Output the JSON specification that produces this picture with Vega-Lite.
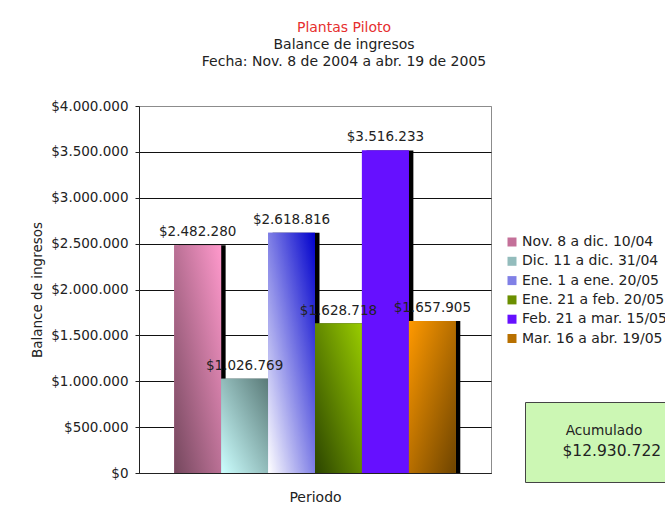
{
  "$schema": "https://vega.github.io/schema/vega-lite/v6.json",
  "width": 352,
  "height": 367,
  "autosize": {"type": "none"},
  "padding": {"left": 139, "top": 106, "right": 174, "bottom": 46},
  "background": "white",
  "title": {
    "text": "Plantas Piloto",
    "subtitle": ["Balance de ingresos", "Fecha: Nov. 8 de 2004 a abr. 19 de 2005"],
    "frame": "group",
    "anchor": "middle",
    "dx": 29,
    "offset": 30,
    "color": "#e62e2e",
    "font": "DejaVu Sans",
    "fontSize": 14,
    "fontWeight": "normal",
    "subtitleColor": "#222222",
    "subtitleFont": "DejaVu Sans",
    "subtitleFontSize": 14,
    "subtitleLineHeight": 17.5,
    "subtitlePadding": 3
  },
  "config": {
    "locale": {"number": {"decimal": ",", "thousands": ".", "grouping": [3], "currency": ["$", ""]}},
    "font": "DejaVu Sans",
    "view": {"fill": "#cccccc", "stroke": "#8c8c8c", "strokeWidth": 1}
  },
  "data": {
    "values": [
      {"periodo": "Nov. 8 a dic. 10/04", "valor": 2482280},
      {"periodo": "Dic. 11 a dic. 31/04", "valor": 1026769},
      {"periodo": "Ene. 1 a ene. 20/05", "valor": 2618816},
      {"periodo": "Ene. 21 a feb. 20/05", "valor": 1628718},
      {"periodo": "Feb. 21 a mar. 15/05", "valor": 3516233},
      {"periodo": "Mar. 16 a abr. 19/05", "valor": 1657905}
    ]
  },
  "layer": [
    {
      "encoding": {
        "x": {
          "field": "periodo",
          "type": "nominal",
          "sort": null,
          "scale": {"paddingInner": 0, "paddingOuter": 0.75},
          "axis": {
            "title": "Periodo",
            "labels": false,
            "ticks": false,
            "domainColor": "#222222",
            "titleFontSize": 14,
            "titleFontWeight": "normal",
            "titleColor": "#222222",
            "titlePadding": 17
          }
        },
        "y": {
          "field": "valor",
          "type": "quantitative",
          "scale": {"domain": [0, 4000000], "nice": false},
          "axis": {
            "values": [0, 500000, 1000000, 1500000, 2000000, 2500000, 3000000, 3500000, 4000000],
            "format": "$,.0f",
            "title": "Balance de ingresos",
            "titleFontSize": 13.5,
            "titleFontWeight": "normal",
            "titleColor": "#222222",
            "titlePadding": 6,
            "labelFontSize": 13.5,
            "labelColor": "#222222",
            "labelPadding": 7,
            "tickSize": 4,
            "tickColor": "#222222",
            "domainColor": "#222222",
            "gridColor": {"condition": {"test": "datum.value === 4000000", "value": "#8c8c8c"}, "value": "#111111"},
            "gridOpacity": 1
          }
        }
      },
      "layer": [
        {"mark": {"type": "bar", "color": "black", "xOffset": 4.5}},
        {
          "mark": {"type": "bar"},
          "encoding": {
            "color": {
              "field": "periodo",
              "type": "nominal",
              "sort": null,
              "scale": {"range": ["#c47099", "#93bcbc", "#8080e6", "#6b8f00", "#6610ff", "#b87000"]},
              "legend": {
                "title": null,
                "orient": "none",
                "legendX": 366,
                "legendY": 129,
                "padding": 0,
                "symbolType": "square",
                "symbolSize": 81,
                "symbolStrokeWidth": 0,
                "symbolOpacity": 1,
                "labelOffset": 3,
                "rowPadding": 5.3,
                "labelFontSize": 14,
                "labelColor": "#222222",
                "labelLimit": 300
              }
            }
          }
        },
        {
          "mark": {"type": "bar"},
          "encoding": {
            "color": {
              "condition": [
                {"test": "datum.periodo === 'Nov. 8 a dic. 10/04'", "value": {"gradient": "linear", "x1": 0, "y1": 1, "x2": 1, "y2": 0, "stops": [{"offset": 0, "color": "#74475d"}, {"offset": 1, "color": "#ff99cc"}]}},
                {"test": "datum.periodo === 'Dic. 11 a dic. 31/04'", "value": {"gradient": "linear", "x1": 0, "y1": 1, "x2": 1, "y2": 0, "stops": [{"offset": 0, "color": "#ccffff"}, {"offset": 1, "color": "#5a7a78"}]}},
                {"test": "datum.periodo === 'Ene. 1 a ene. 20/05'", "value": {"gradient": "linear", "x1": 0, "y1": 1, "x2": 1, "y2": 0, "stops": [{"offset": 0, "color": "#ffffff"}, {"offset": 1, "color": "#0000cc"}]}},
                {"test": "datum.periodo === 'Ene. 21 a feb. 20/05'", "value": {"gradient": "linear", "x1": 0, "y1": 1, "x2": 1, "y2": 0, "stops": [{"offset": 0, "color": "#2b4400"}, {"offset": 1, "color": "#99cc00"}]}},
                {"test": "datum.periodo === 'Mar. 16 a abr. 19/05'", "value": {"gradient": "linear", "x1": 0, "y1": 0, "x2": 1, "y2": 1, "stops": [{"offset": 0, "color": "#ff9900"}, {"offset": 1, "color": "#6e4400"}]}}
              ],
              "value": "#6610ff"
            }
          }
        },
        {
          "mark": {"type": "text", "baseline": "middle", "dy": -13, "fontSize": 13.5, "color": "#222222"},
          "encoding": {"text": {"field": "valor", "type": "quantitative", "format": "$,.0f"}}
        }
      ]
    },
    {
      "data": {"values": [{"concepto": "Acumulado", "total": 12930722}]},
      "mark": {"type": "point", "opacity": 0},
      "encoding": {
        "shape": {
          "field": "total",
          "type": "nominal",
          "legend": {
            "title": "Acumulado",
            "orient": "none",
            "legendX": 386,
            "legendY": 296,
            "fillColor": "#ccf7b4",
            "strokeColor": "#444444",
            "padding": 22,
            "titleFontSize": 13.7,
            "titleFontWeight": "normal",
            "titleColor": "#222222",
            "titleAnchor": "middle",
            "titlePadding": 6,
            "labelFontSize": 15.5,
            "labelColor": "#222222",
            "labelOffset": 0,
            "labelExpr": "format(datum.value, '$,.0f')",
            "symbolSize": 0,
            "symbolOpacity": 0,
            "symbolStrokeWidth": 0
          }
        }
      }
    }
  ]
}
